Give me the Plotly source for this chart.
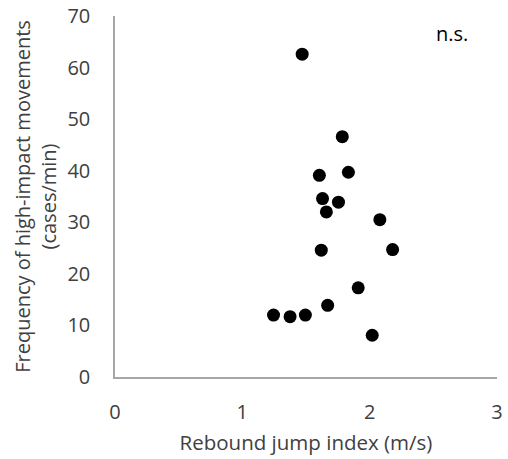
import plotly.graph_objects as go

rebound_jump_index = [1.47, 1.785, 1.605, 1.833, 1.63, 1.755, 1.66, 2.08, 1.62, 2.18, 1.91, 1.67, 1.245, 1.375, 1.495, 2.02]
high_impact_freq = [62.6, 46.6, 39.1, 39.7, 34.6, 33.9, 32.0, 30.5, 24.6, 24.7, 17.3, 13.9, 12.0, 11.7, 12.0, 8.1]
x_ticks = [0, 1, 2, 3]
y_ticks = [0, 10, 20, 30, 40, 50, 60, 70]

font_family = "Open Sans, Noto Sans, sans-serif"
txt = "#404040"

fig = go.Figure()
fig.add_trace(go.Scatter(
    x=rebound_jump_index, y=high_impact_freq, mode="markers",
    marker=dict(color="black", size=13, line=dict(width=0)),
    showlegend=False, cliponaxis=False,
))

fig.update_layout(
    width=508, height=459,
    margin=dict(l=115, r=11, t=16, b=82),
    paper_bgcolor="white", plot_bgcolor="white",
    font=dict(family=font_family, color=txt, size=20),
    xaxis=dict(
        range=[0, 3], tickvals=x_ticks, showgrid=False, zeroline=False,
        showline=True, linecolor="#a6a6a6", linewidth=1.5, ticks="",
        automargin=False, ticklabelstandoff=16,
        tickfont=dict(size=20, color=txt),
        title=dict(text="Rebound jump index (m/s)", font=dict(size=20.5, color=txt), standoff=12),
    ),
    yaxis=dict(
        range=[0, 70], tickvals=y_ticks, showgrid=False, zeroline=False,
        showline=True, linecolor="#a6a6a6", linewidth=1.5, ticks="",
        automargin=False, ticklabelstandoff=19,
        tickfont=dict(size=20, color=txt),
        title=dict(text="Frequency of high-impact movements<br>(cases/min)", font=dict(size=20, color=txt), standoff=5),
    ),
    annotations=[dict(
        text="n.s.", x=2.65, y=66.7, xref="x", yref="y",
        xanchor="center", yanchor="middle",
        showarrow=False, font=dict(size=20, color="black"),
    )],
)

fig.write_html("out.html")
